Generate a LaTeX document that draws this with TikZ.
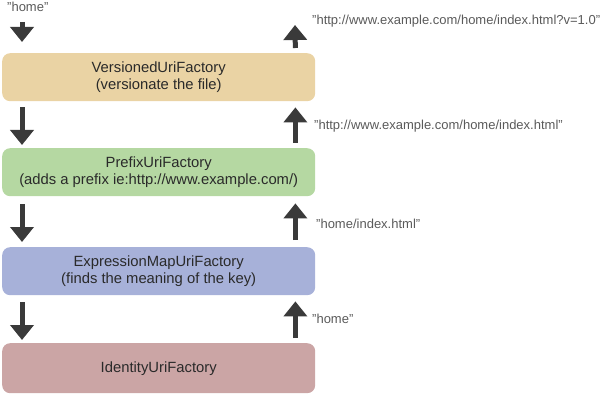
\documentclass[tikz,border=0pt]{standalone}
\usepackage{fontspec}
\setmainfont{Liberation Sans}
\usetikzlibrary{positioning, calc, arrows.meta}
\definecolor{versionedtan}{HTML}{EAD3A4}
\definecolor{prefixgreen}{HTML}{B5D8A2}
\definecolor{mapblue}{HTML}{A7B1D9}
\definecolor{identitypink}{HTML}{CBA5A5}
\definecolor{arrowgray}{HTML}{3A3A3A}
\definecolor{textgray}{HTML}{2A2A2A}
\definecolor{labelgray}{HTML}{5A5A5A}
\tikzstyle{Arrow} = [
%Create custom arrow style:
line width = 5pt, draw = arrowgray,
-{Triangle[width = 23pt, length = 15pt]}
]

\begin{document}
\begin{tikzpicture}[x = 1pt, y = -1pt,
				factory/.style = {rectangle, rounded corners = 8pt, anchor = north west, align = center, minimum width = 313pt, minimum height = 48pt, text = textgray, font = \fontsize{14.8}{17}\selectfont},
				result/.style = {anchor = base west, inner sep = 0pt, text = labelgray, font = \fontsize{13}{15}\selectfont},
			]
			\useasboundingbox (0,0) rectangle (600,417);

			\node[factory, fill = versionedtan](VUF) at (2,53){VersionedUriFactory\\(versionate the file)};
			\node[factory, fill = prefixgreen](PUF) at (2,148){PrefixUriFactory\\(adds a prefix ie:http://www.example.com/)};
			\node[factory, fill = mapblue](EUF) at (2,247){ExpressionMapUriFactory\\(finds the meaning of the key)};
			\node[factory, fill = identitypink, minimum height = 50pt](IUF) at (2,343){IdentityUriFactory};

			\coordinate(in) at (22,22);
			\coordinate(out) at (295,25);
			\node[result](key) at (7,12){"home"};
			\node[result](url) at (312,25){"http://www.example.com/home/index.html?v=1.0"};
			\node[result](prefixed) at (314,130){"http://www.example.com/home/index.html"};
			\node[result](mapped) at (316,229){"home/index.html"};
			\node[result](raw) at (312,323){"home"};

			% down the chain
			\draw[Arrow, shorten >= 11pt](in)--(in |- VUF.north);
			\draw[Arrow, shorten <= 6pt, shorten >= 3pt]([xshift = 20pt]VUF.south west)--([xshift = 20pt]PUF.north west);
			\draw[Arrow, shorten <= 8pt, shorten >= 5pt]([xshift = 20pt]PUF.south west)--([xshift = 20pt]EUF.north west);
			\draw[Arrow, shorten <= 7pt, shorten >= 3pt]([xshift = 20pt]EUF.south west)--([xshift = 20pt]IUF.north west);

			% back up the chain
			\draw[Arrow, shorten <= 5pt, shorten >= 6pt]([xshift = -20pt]IUF.north east)--([xshift = -20pt]EUF.south east);
			\draw[Arrow, shorten <= 7pt, shorten >= 7pt]([xshift = -20pt]EUF.north east)--([xshift = -20pt]PUF.south east);
			\draw[Arrow, shorten <= 5pt, shorten >= 6pt]([xshift = -20pt]PUF.north east)--([xshift = -20pt]VUF.south east);
			\draw[Arrow, shorten <= 5pt]([xshift = -20pt]VUF.north east)--(out);

		\end{tikzpicture}
\end{document}
